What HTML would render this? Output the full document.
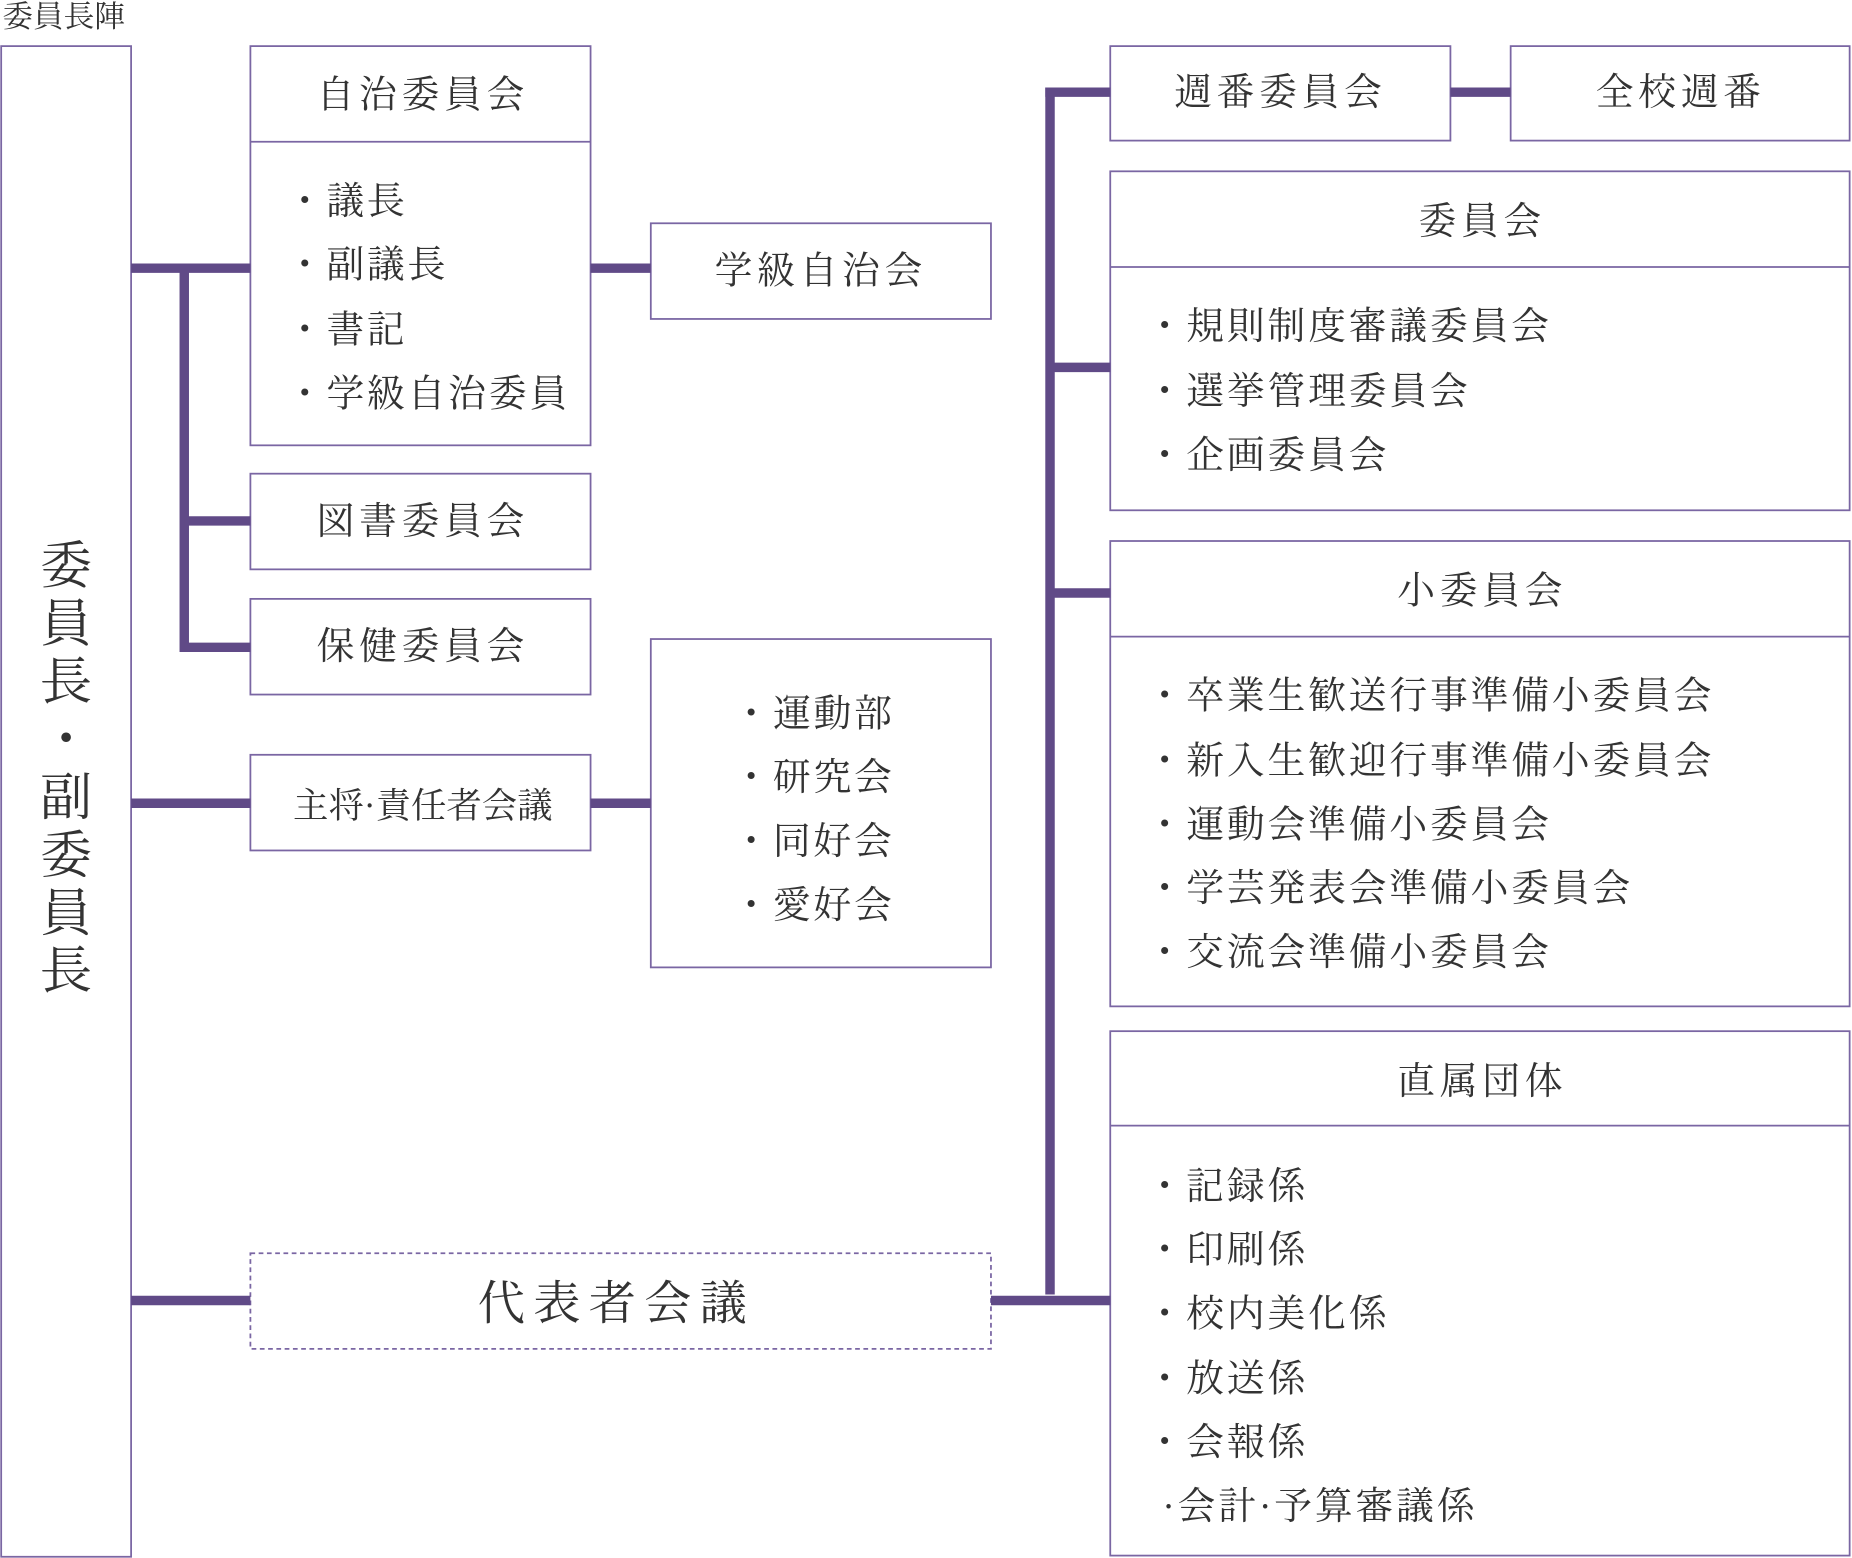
<!DOCTYPE html>
<html><head><meta charset="utf-8"><style>
html,body{margin:0;padding:0;background:#fff;}
svg{display:block;}
text{font-family:"Liberation Serif","Noto Serif CJK JP","Noto Serif CJK SC",serif;fill:#333;}
</style></head><body>
<svg width="1852" height="1558" viewBox="0 0 1568 1319" xmlns="http://www.w3.org/2000/svg">
<g fill="none" stroke="#7a66a3" stroke-width="1.5">
<rect x="1" y="39" width="110" height="1279"/>
<rect x="212" y="39" width="288" height="338"/><line x1="212" y1="120" x2="500" y2="120"/>
<rect x="551" y="189" width="288" height="81"/>
<rect x="212" y="401" width="288" height="81"/>
<rect x="212" y="507" width="288" height="81"/>
<rect x="212" y="639" width="288" height="81"/>
<rect x="551" y="541" width="288" height="278"/>
<rect x="212" y="1061" width="627" height="81" stroke-dasharray="4,3"/>
<rect x="940" y="39" width="288" height="80"/>
<rect x="1279" y="39" width="287" height="80"/>
<rect x="940" y="145" width="626" height="287"/><line x1="940" y1="226" x2="1566" y2="226"/>
<rect x="940" y="458" width="626" height="394"/><line x1="940" y1="539" x2="1566" y2="539"/>
<rect x="940" y="873" width="626" height="444"/><line x1="940" y1="953" x2="1566" y2="953"/>
</g>
<g stroke="#604a87" stroke-width="8" fill="none">
<line x1="111" y1="227" x2="212" y2="227"/>
<line x1="156" y1="227" x2="156" y2="552"/>
<line x1="156" y1="441" x2="212" y2="441"/>
<line x1="156" y1="548" x2="212" y2="548"/>
<line x1="500" y1="227" x2="551" y2="227"/>
<line x1="111" y1="680" x2="212" y2="680"/>
<line x1="500" y1="680" x2="551" y2="680"/>
<line x1="111" y1="1101" x2="212" y2="1101"/>
<line x1="839" y1="1101" x2="940" y2="1101"/>
<line x1="889" y1="74" x2="889" y2="1096"/>
<line x1="885" y1="78" x2="940" y2="78"/>
<line x1="889" y1="311" x2="940" y2="311"/>
<line x1="889" y1="502" x2="940" y2="502"/>
<line x1="1228" y1="78" x2="1279" y2="78"/>
</g>
<text x="2" y="23" font-size="26">委員長陣</text>
<g font-size="44" text-anchor="middle">
<text x="56" y="494">委</text><text x="56" y="543">員</text><text x="56" y="592">長</text><text x="56" y="641">・</text><text x="56" y="690">副</text><text x="56" y="739">委</text><text x="56" y="788">員</text><text x="56" y="837">長</text>
</g>
<g font-size="32" text-anchor="middle" letter-spacing="4">
<text x="358" y="91">自治委員会</text>
<text x="695" y="240">学級自治会</text>
<text x="358" y="452">図書委員会</text>
<text x="358" y="558">保健委員会</text>
<text x="1084" y="89">週番委員会</text>
<text x="1423" y="89">全校週番</text>
<text x="1255" y="198">委員会</text>
<text x="1255" y="511">小委員会</text>
<text x="1255" y="926">直属団体</text>
</g>
<text x="358" y="692" font-size="30" text-anchor="middle">主将·責任者会議</text>
<text x="522" y="1117" font-size="40" text-anchor="middle" letter-spacing="7">代表者会議</text>
<g font-size="32" letter-spacing="2.4">
<text x="242" y="181">・議長</text><text x="242" y="235">・副議長</text><text x="242" y="290">・書記</text><text x="242" y="344">・学級自治委員</text>
<text x="620" y="615">・運動部</text><text x="620" y="669">・研究会</text><text x="620" y="723">・同好会</text><text x="620" y="777">・愛好会</text>
<text x="970" y="287">・規則制度審議委員会</text><text x="970" y="342">・選挙管理委員会</text><text x="970" y="396">・企画委員会</text>
<text x="970" y="600">・卒業生歓送行事準備小委員会</text><text x="970" y="655">・新入生歓迎行事準備小委員会</text><text x="970" y="709">・運動会準備小委員会</text><text x="970" y="763">・学芸発表会準備小委員会</text><text x="970" y="817">・交流会準備小委員会</text>
<text x="970" y="1015">・記録係</text><text x="970" y="1069">・印刷係</text><text x="970" y="1123">・校内美化係</text><text x="970" y="1178">・放送係</text><text x="970" y="1232">・会報係</text><text x="984" y="1286">·会計·予算審議係</text>
</g>
</svg>
</body></html>
